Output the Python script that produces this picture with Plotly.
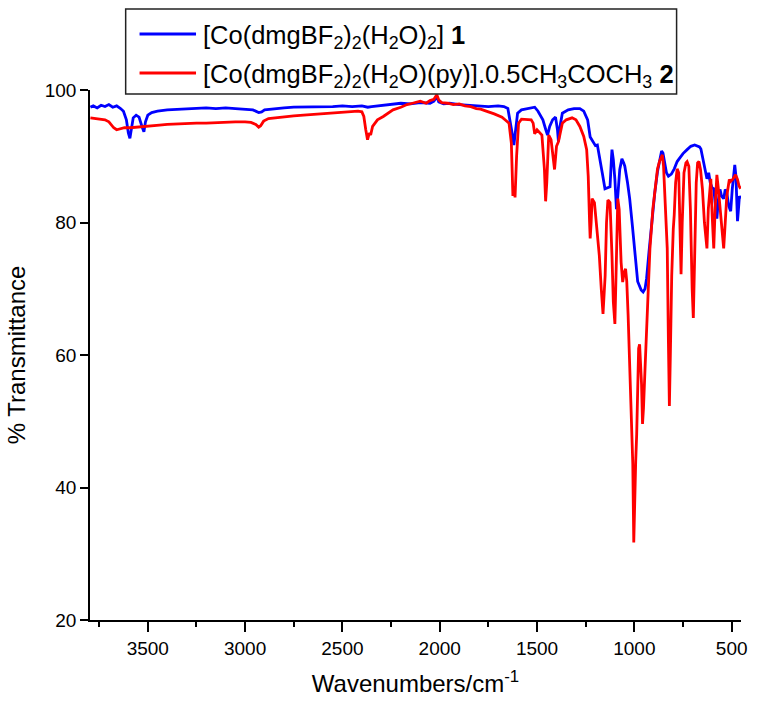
import plotly.graph_objects as go

# ---- data ----
wn_blue = [3795, 3780, 3760, 3740, 3720, 3700, 3680, 3660, 3640, 3625, 3610, 3600, 3592, 3585, 3575,
           3560, 3545, 3530, 3520, 3512, 3500, 3480, 3450, 3400, 3350, 3300, 3250, 3200, 3150, 3100,
           3050, 3000, 2960, 2930, 2915, 2900, 2850, 2800, 2750, 2700, 2650, 2600, 2550, 2500, 2450,
           2400, 2370, 2350, 2300, 2250, 2200, 2150, 2100, 2050, 2030, 2015, 2005, 1980, 1950, 1900,
           1850, 1800, 1750, 1700, 1670, 1650, 1635, 1625, 1619, 1612, 1600, 1580, 1550, 1520, 1512,
           1495, 1470, 1455, 1446, 1435, 1420, 1405, 1395, 1390, 1382, 1370, 1340, 1310, 1280, 1260,
           1240, 1227, 1215, 1200, 1190, 1176, 1165, 1151, 1138, 1125, 1118, 1115, 1108, 1100, 1092,
           1085, 1075, 1064, 1055, 1049, 1035, 1024, 1010, 998, 983, 965, 955, 945, 937, 925,
           912, 895, 881, 870, 860, 853, 845, 835, 825, 810, 795, 780, 770, 750, 729,
           710, 690, 678, 665, 658, 650, 642, 635, 627, 618, 610, 600, 592, 585, 576,
           568, 560, 552, 541, 533, 525, 515, 505, 497, 490, 484, 478, 474, 470, 465,
           460, 454]
t_blue = [97.4, 97.6, 97.3, 97.7, 97.5, 97.8, 97.4, 97.6, 97.2, 96.8, 95.5, 93.5, 92.7, 94.0, 95.8,
          96.2, 95.9, 94.5, 93.7, 95.2, 96.2, 96.6, 96.8, 97.0, 97.1, 97.2, 97.2, 97.3, 97.2, 97.3,
          97.2, 97.1, 97.0, 96.6, 96.7, 97.0, 97.2, 97.3, 97.4, 97.4, 97.5, 97.4, 97.5, 97.6, 97.5,
          97.6, 97.4, 97.5, 97.7, 97.8, 98.0, 97.9, 98.1, 98.0, 98.3, 99.0, 98.2, 97.9, 98.0, 97.8,
          97.7, 97.6, 97.5, 97.6, 97.5, 97.2, 95.0, 93.0, 91.7, 93.5, 96.5, 97.0, 97.2, 97.3, 97.4,
          96.8, 95.5, 94.0, 93.2, 94.5, 95.5, 95.9, 94.0, 92.2, 94.5, 96.5, 97.0, 97.2, 97.2, 96.8,
          95.5, 92.9, 92.3, 91.6, 91.7, 89.6, 87.5, 85.1, 85.3, 85.4, 89.5, 91.0, 89.5, 86.5, 82.0,
          84.0, 88.0, 89.6, 89.0, 88.5, 86.0, 83.6, 79.5, 76.1, 71.1, 69.8, 69.5, 70.0, 71.6, 75.5,
          79.7, 84.5, 87.7, 89.5, 90.8, 90.5, 89.0, 87.5, 87.0, 87.3, 88.1, 89.2, 89.6, 90.4, 91.0,
          91.5, 91.7, 91.6, 91.4, 91.1, 90.0, 88.7, 87.5, 86.6, 87.5, 86.0, 85.2, 85.1, 83.0, 80.6,
          83.5, 85.0, 84.0, 83.6, 85.0, 84.5, 82.5, 81.7, 85.0, 87.2, 88.7, 87.0, 83.0, 80.2, 82.0,
          84.0, 83.6]

wn_red = [3795, 3770, 3740, 3720, 3700, 3690, 3675, 3660, 3645, 3620, 3590, 3560, 3520, 3480, 3440,
          3400, 3350, 3300, 3250, 3200, 3150, 3100, 3050, 3000, 2970, 2945, 2930, 2920, 2905, 2880,
          2850, 2800, 2750, 2700, 2650, 2600, 2550, 2500, 2450, 2420, 2400, 2390, 2380, 2371, 2362,
          2355, 2345, 2320, 2290, 2270, 2240, 2200, 2168, 2140, 2100, 2070, 2050, 2030, 2015, 2005,
          1990, 1960, 1930, 1900, 1870, 1840, 1812, 1790, 1776, 1750, 1720, 1700, 1680, 1660, 1644,
          1632, 1624, 1620, 1613, 1605, 1595, 1580, 1560, 1530, 1520, 1512, 1500, 1475, 1462, 1456,
          1450, 1440, 1428, 1420, 1410, 1400, 1390, 1370, 1350, 1320, 1300, 1280, 1260, 1245, 1237,
          1230, 1227, 1222, 1217, 1205, 1195, 1180, 1170, 1161, 1150, 1143, 1136, 1125, 1115, 1108,
          1100, 1093, 1085, 1078, 1068, 1060, 1052, 1045, 1039, 1032, 1025, 1018, 1012, 1008, 1003,
          998, 993, 988, 983, 978, 973, 968, 963, 958, 953, 945, 937, 932, 920, 905,
          890, 881, 870, 862, 856, 850, 843, 835, 831, 825, 820, 815, 808, 800, 795,
          788, 780, 772, 766, 760, 754, 745, 735, 729, 720, 712, 703, 697, 690, 682,
          675, 668, 660, 650, 640, 627, 620, 612, 607, 600, 592, 585, 576, 568, 560,
          550, 541, 533, 525, 512, 505, 495, 480, 470, 462, 454]
t_red = [95.8, 95.7, 95.6, 95.5, 95.2, 94.8, 94.3, 94.0, 94.1, 94.3, 94.3, 94.4, 94.5, 94.6, 94.7,
         94.8, 94.9, 94.9, 95.0, 95.0, 95.1, 95.1, 95.2, 95.2, 95.1, 94.8, 94.4, 94.6, 95.3, 95.7,
         95.8, 96.0, 96.1, 96.2, 96.3, 96.4, 96.5, 96.6, 96.7, 96.8, 96.7, 96.0, 94.0, 92.5, 93.5,
         93.2, 94.5, 95.5, 96.0, 96.4, 97.0, 97.4, 97.8, 98.0, 98.3, 98.0, 98.4, 98.6, 99.3, 98.5,
         98.1, 98.0, 97.8, 97.9, 97.6, 97.5, 97.2, 97.1, 97.0, 96.7, 96.4, 96.2, 95.9, 95.4, 95.0,
         92.0, 84.0, 85.5, 83.8, 90.0, 95.0, 95.6, 95.6, 95.5, 95.0, 93.4, 94.0, 93.2, 88.0, 83.2,
         86.0, 93.2, 92.5, 90.0, 88.0, 91.5, 92.2, 95.0, 95.5, 95.8, 95.5, 94.5, 93.0, 91.0, 87.0,
         80.0, 77.6, 80.0, 83.6, 83.0, 80.0, 75.0, 70.0, 66.2, 72.0, 80.0, 83.4, 83.0, 75.0, 68.0,
         64.7, 72.0, 83.6, 82.0, 74.0, 71.0, 72.5, 73.0, 71.1, 66.0, 60.0, 52.0, 46.0, 43.5, 31.7,
         40.0, 44.0, 48.0, 58.0, 61.0, 61.6, 59.0, 55.6, 49.6, 52.0, 58.0, 63.0, 68.0, 76.0, 82.0,
         86.0, 88.1, 89.3, 90.0, 90.2, 88.5, 84.0, 78.0, 76.1, 62.0, 52.3, 60.0, 72.0, 79.0, 81.2,
         86.0, 88.1, 87.5, 80.0, 72.2, 80.0, 87.5, 89.0, 89.2, 88.5, 82.0, 70.0, 65.6, 75.0, 86.0,
         89.0, 89.2, 88.0, 85.0, 80.0, 76.1, 82.0, 86.0, 86.6, 81.0, 76.1, 82.0, 87.2, 85.0, 82.0,
         79.0, 76.1, 80.0, 84.0, 86.5, 86.2, 86.5, 87.2, 86.5, 85.5, 85.1]

name_blue = "[Co(dmgBF<sub>2</sub>)<sub>2</sub>(H<sub>2</sub>O)<sub>2</sub>] <b>1</b>"
name_red = ("[Co(dmgBF<sub>2</sub>)<sub>2</sub>(H<sub>2</sub>O)(py)].0.5CH<sub>3</sub>"
            "COCH<sub>3</sub> <b>2</b>")

x_ticks = [3500, 3000, 2500, 2000, 1500, 1000, 500]
y_ticks = [20, 40, 60, 80, 100]

FONT = "Liberation Sans, Arial, sans-serif"
BLUE = "#0000FF"
RED = "#FF0000"

# plot area in pixels: x 90..747, y 90..620
L, R, T, B = 90, 747, 90, 620
W, H = R - L, B - T


def px(x):
    return (x - L) / W


def py(y):
    return (B - y) / H


fig = go.Figure()
fig.add_trace(go.Scatter(x=wn_blue, y=t_blue, mode="lines", name=name_blue,
                         line=dict(color=BLUE, width=2.8), showlegend=False))
fig.add_trace(go.Scatter(x=wn_red, y=t_red, mode="lines", name=name_red,
                         line=dict(color=RED, width=2.8), showlegend=False))

# legend box drawn by hand so that it does not push the margins
shapes = [
    dict(type="rect", xref="paper", yref="paper", x0=px(126), x1=px(682), y0=py(94), y1=py(9),
         line=dict(color="#222222", width=1.5), fillcolor="white", layer="above"),
    dict(type="line", xref="paper", yref="paper", x0=px(140), x1=px(197), y0=py(34), y1=py(34),
         line=dict(color=BLUE, width=2.8), layer="above"),
    dict(type="line", xref="paper", yref="paper", x0=px(140), x1=px(197), y0=py(73), y1=py(73),
         line=dict(color=RED, width=2.8), layer="above"),
]
annotations = [
    dict(text=name_blue, xref="paper", yref="paper", x=px(202), y=py(37), xanchor="left",
         yanchor="middle", showarrow=False, font=dict(family=FONT, size=25.5, color="black")),
    dict(text=name_red, xref="paper", yref="paper", x=px(202), y=py(76), xanchor="left",
         yanchor="middle", showarrow=False, font=dict(family=FONT, size=25.5, color="black")),
]

fig.update_layout(
    width=759, height=710,
    margin=dict(l=L, r=759 - R, t=T, b=710 - B),
    paper_bgcolor="white", plot_bgcolor="white",
    font=dict(family=FONT, color="black", size=19),
    showlegend=False,
    shapes=shapes,
    annotations=annotations,
)
fig.update_xaxes(
    range=[3797, 452], showgrid=False, zeroline=False,
    showline=True, linecolor="black", linewidth=1.5,
    ticks="outside", ticklen=10, tickwidth=1.5, tickcolor="black",
    tickvals=x_ticks, ticktext=[str(v) for v in x_ticks],
    tickfont=dict(size=19),
    minor=dict(dtick=250, ticklen=5, tickwidth=1.5, tickcolor="black", ticks="outside"),
    title=dict(text="Wavenumbers/cm<sup>-1</sup>", font=dict(size=24), standoff=18),
)
fig.update_yaxes(
    range=[20, 100], showgrid=False, zeroline=False,
    showline=True, linecolor="black", linewidth=1.5,
    ticks="outside", ticklen=8, tickwidth=1.5, tickcolor="black",
    tickvals=y_ticks, ticktext=[str(v) for v in y_ticks],
    tickfont=dict(size=19),
    title=dict(text="% Transmittance", font=dict(size=24), standoff=12),
)

fig.write_html("out.html")
